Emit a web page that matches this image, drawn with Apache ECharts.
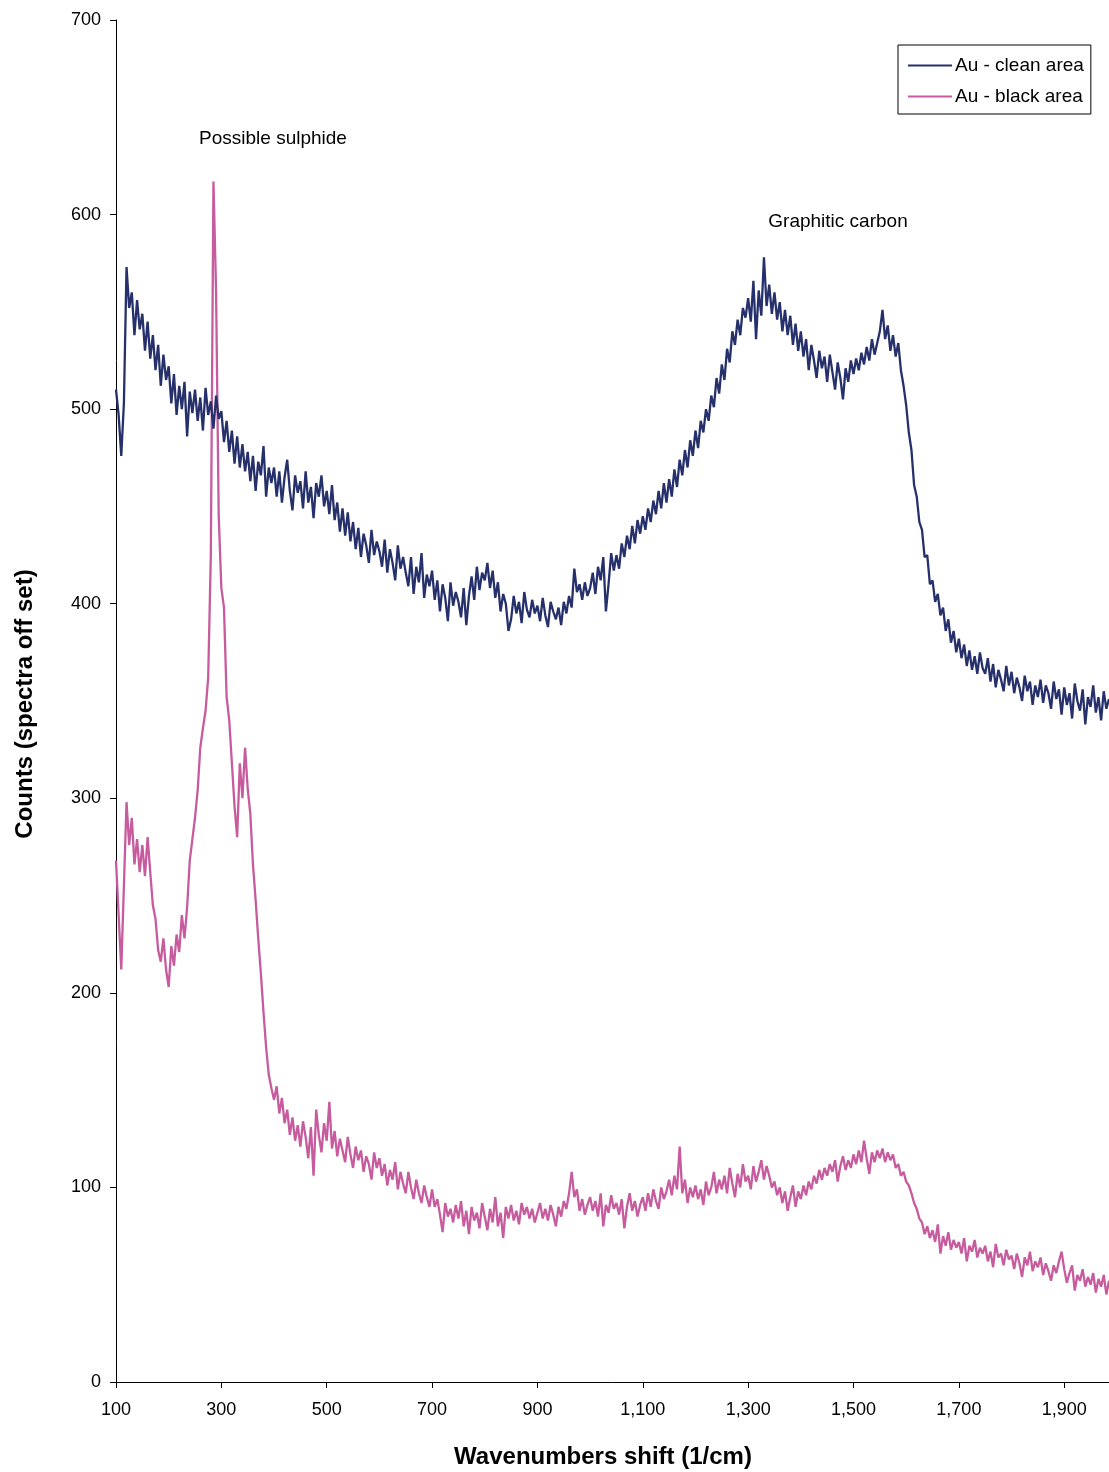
<!DOCTYPE html>
<html>
<head>
<meta charset="utf-8">
<script src="https://cdn.jsdelivr.net/npm/echarts@6/dist/echarts.min.js"></script>
<style>
  html, body { margin: 0; padding: 0; background: #fff; }
  #chart { width: 1109px; height: 1472px; }
</style>
</head>
<body>
<div id="chart"></div>
<script>
// Raman spectra, sampled every 5 cm^-1 from 100 to 1985 cm^-1.
const WN_START = 100;
const WN_STEP = 5;

// Au - clean area (counts, offset)
const cleanArea = [
  510, 497, 476, 503, 573, 552, 560, 538, 556, 541,
  549, 530, 545, 526, 538, 520, 533, 512, 528, 515,
  522, 503, 518, 497, 512, 500, 514, 486, 509, 498,
  510, 494, 506, 489, 511, 497, 504, 490, 507, 495,
  499, 483, 494, 478, 489, 472, 486, 470, 482, 468,
  478, 463, 476, 458, 473, 466, 481, 455, 470, 462,
  470, 455, 468, 452, 465, 474, 458, 448, 466, 457,
  463, 449, 468, 452, 460, 444, 462, 455, 466, 450,
  458, 446, 461, 443, 452, 437, 449, 435, 447, 432,
  442, 428, 439, 424, 436, 430, 421, 438, 425, 432,
  427, 419, 433, 416, 428, 421, 412, 430, 418, 424,
  416, 409, 424, 405, 419, 411, 426, 403, 415, 409,
  417, 402, 412, 396, 410, 403, 391, 411, 399, 406,
  401, 393, 408, 389, 404, 414, 402, 419, 407, 416,
  412, 421, 408, 417, 403, 411, 396, 405, 400, 386,
  392, 404, 395, 401, 390, 406, 397, 393, 402, 395,
  399, 391, 403, 394, 388, 401, 396, 392, 398, 389,
  401, 395, 404, 398, 418, 406, 410, 402, 411, 404,
  408, 416, 405, 419, 412, 424, 396, 410, 426, 417,
  425, 418, 431, 424, 435, 428, 440, 431, 443, 436,
  445, 438, 449, 442, 453, 446, 458, 449, 462, 452,
  464, 455, 469, 460, 474, 466, 479, 470, 484, 476,
  489, 480, 494, 488, 500, 494, 507, 501, 516, 508,
  523, 515, 531, 524, 540, 533, 546, 538, 552, 547,
  557, 545, 566, 536, 561, 548, 578, 553, 564, 549,
  560, 546, 555, 540, 551, 538, 548, 533, 544, 530,
  540, 527, 536, 520, 533, 525, 516, 530, 521, 527,
  514, 528, 519, 510, 524, 516, 505, 521, 514, 525,
  518, 526, 520, 529, 523, 532, 525, 536, 528, 534,
  540, 551, 536, 543, 530, 538, 527, 534, 520, 512,
  502, 488, 479, 461, 455, 442, 438, 424, 425, 410,
  412, 401, 405, 394, 398, 386, 392, 380, 386, 375,
  382, 372, 379, 368, 376, 366, 373, 364, 375, 367,
  364, 372, 360, 369, 357, 366, 361, 355, 368, 358,
  365, 354, 362, 357, 350, 363, 355, 360, 348, 358,
  352, 361, 349, 358, 354, 346, 360, 351, 356, 343,
  357, 348, 354, 341, 359, 350, 345, 356, 338, 352,
  347, 358, 344, 352, 340, 355, 346, 351
];

// Au - black area (counts)
const blackArea = [
  268, 240, 212, 255, 298, 276, 290, 266, 279, 262,
  276, 260, 280, 262, 245, 238, 222, 216, 228, 212,
  203, 224, 214, 230, 221, 240, 228, 244, 268, 279,
  290, 304, 326, 336, 345, 362, 425, 617, 560, 445,
  408, 398, 352, 340, 318, 296, 280, 318, 300, 326,
  305, 292, 266, 248, 228, 210, 190, 172, 158, 151,
  145, 152, 138, 146, 133, 140, 127, 136, 124, 132,
  121, 134, 126, 115, 131, 106, 140, 127, 118, 133,
  124, 144, 120, 129, 116, 125, 119, 113, 126, 117,
  110, 121, 114, 119, 108, 116, 112, 104, 118, 110,
  115, 106, 112, 101, 109, 104, 113, 99, 108, 102,
  97, 108, 100, 94, 104, 97, 92, 101, 95, 90,
  99, 90, 94, 86, 77, 92, 85, 89, 82, 91,
  84, 93, 80, 88, 76, 90, 83, 87, 79, 92,
  85, 78, 89, 82, 95, 80, 87, 74, 90, 84,
  91, 83, 88, 81, 92, 86, 90, 84, 89, 82,
  87, 92, 84, 89, 83, 91, 86, 80, 90, 85,
  93, 89, 97, 108, 95, 99, 88, 94, 86, 91,
  95, 88, 93, 85, 97, 80, 91, 87, 96, 89,
  92, 86, 94, 79, 90, 97, 88, 93, 85, 91,
  95, 88, 97, 90, 99, 93, 89, 100, 94, 98,
  104, 96, 106, 99, 121, 97, 104, 92, 100, 95,
  101, 94, 99, 91, 103, 96, 100, 108, 97, 104,
  99, 106, 97, 110, 102, 95, 107, 100, 112, 103,
  106, 99, 111, 103, 108, 114, 104, 111, 106, 100,
  103, 96, 100, 92, 98, 88, 95, 101, 90, 98,
  94, 101, 96, 103, 99, 106, 102, 109, 104, 110,
  106, 112, 108, 114, 103, 111, 116, 109, 114, 110,
  117, 112, 119, 113, 124, 115, 107, 118, 113, 119,
  115, 120, 113, 118, 114, 117, 110, 112, 106, 108,
  103, 101, 97, 92, 89, 84, 82, 76, 80, 74,
  78, 72, 81, 66, 75, 70, 77, 68, 73, 69,
  72, 66, 74, 62, 70, 67, 73, 64, 69, 66,
  70, 62, 67, 59, 71, 64, 66, 60, 68, 63,
  65, 58, 66, 61, 54, 64, 60, 67, 57, 62,
  59, 64, 55, 61, 57, 52, 60, 56, 62, 67,
  58, 51, 56, 60, 47, 55, 52, 58, 49, 54,
  50, 56, 46, 53, 49, 55, 45, 52
];

const xTickValues = [100, 300, 500, 700, 900, 1100, 1300, 1500, 1700, 1900];
const xTickLabels = ['100', '300', '500', '700', '900', '1,100', '1,300', '1,500', '1,700', '1,900'];
const yTickLabels = ['0', '100', '200', '300', '400', '500', '600', '700'];

const seriesNames = ['Au - clean area', 'Au - black area'];
const annotations = [
  { text: 'Possible sulphide', x: 273, y: 139 },
  { text: 'Graphitic carbon', x: 838, y: 222 }
];

const FONT = 'Liberation Sans, Arial, sans-serif';

function toPairs(values) {
  return values.map((v, i) => [WN_START + i * WN_STEP, v]);
}

const chart = echarts.init(document.getElementById('chart'), null, { renderer: 'canvas' });

chart.setOption({
  animation: false,
  backgroundColor: '#ffffff',
  grid: { left: 116, right: 0, top: 20, bottom: 90, containLabel: false },
  legend: {
    orient: 'vertical',
    left: 898,
    top: 45,
    padding: [11, 7, 8, 10],
    itemGap: 12,
    itemWidth: 44,
    itemHeight: 2,
    icon: 'rect',
    borderColor: '#000',
    borderWidth: 1,
    borderRadius: 0,
    backgroundColor: '#fff',
    textStyle: { fontFamily: FONT, fontSize: 19, color: '#000', padding: [0, 0, 0, -2] },
    data: seriesNames
  },
  xAxis: {
    type: 'value',
    min: 100,
    max: 1985,
    interval: 200,
    axisLine: { show: true, lineStyle: { color: '#000', width: 1 } },
    axisTick: { show: true, inside: false, length: 6, lineStyle: { color: '#000' } },
    splitLine: { show: false },
    axisLabel: {
      margin: 19,
      fontFamily: FONT,
      fontSize: 18,
      color: '#000',
      showMaxLabel: false,
      formatter: function (v) {
        const i = xTickValues.indexOf(v);
        return i >= 0 ? xTickLabels[i] : '';
      }
    }
  },
  yAxis: {
    type: 'value',
    min: 0,
    max: 700,
    interval: 100,
    axisLine: { show: true, lineStyle: { color: '#000', width: 1 } },
    axisTick: { show: true, inside: false, length: 6, lineStyle: { color: '#000' } },
    splitLine: { show: false },
    axisLabel: {
      margin: 15,
      fontFamily: FONT,
      fontSize: 18,
      color: '#000',
      formatter: function (v) { return yTickLabels[Math.round(v / 100)]; }
    }
  },
  graphic: [
    {
      type: 'text',
      style: {
        text: 'Counts (spectra off set)',
        font: 'bold 24px ' + FONT,
        fill: '#000',
        align: 'center',
        verticalAlign: 'middle'
      },
      x: 25, y: 704, rotation: Math.PI / 2
    },
    {
      type: 'text',
      style: {
        text: 'Wavenumbers shift (1/cm)',
        font: 'bold 24px ' + FONT,
        fill: '#000',
        align: 'center',
        verticalAlign: 'middle'
      },
      x: 603, y: 1457
    }
  ].concat(annotations.map(a => ({
    type: 'text',
    style: {
      text: a.text,
      font: '19px ' + FONT,
      fill: '#000',
      align: 'center',
      verticalAlign: 'middle'
    },
    x: a.x, y: a.y
  }))),
  series: [
    {
      name: seriesNames[1],
      type: 'line',
      data: toPairs(blackArea),
      showSymbol: false,
      symbol: 'none',
      lineStyle: { color: '#c65b9e', width: 2.3 },
      itemStyle: { color: '#c65b9e' },
      z: 2
    },
    {
      name: seriesNames[0],
      type: 'line',
      data: toPairs(cleanArea),
      showSymbol: false,
      symbol: 'none',
      lineStyle: { color: '#26306b', width: 2.3 },
      itemStyle: { color: '#26306b' },
      z: 3
    }
  ]
});
</script>
</body>
</html>
